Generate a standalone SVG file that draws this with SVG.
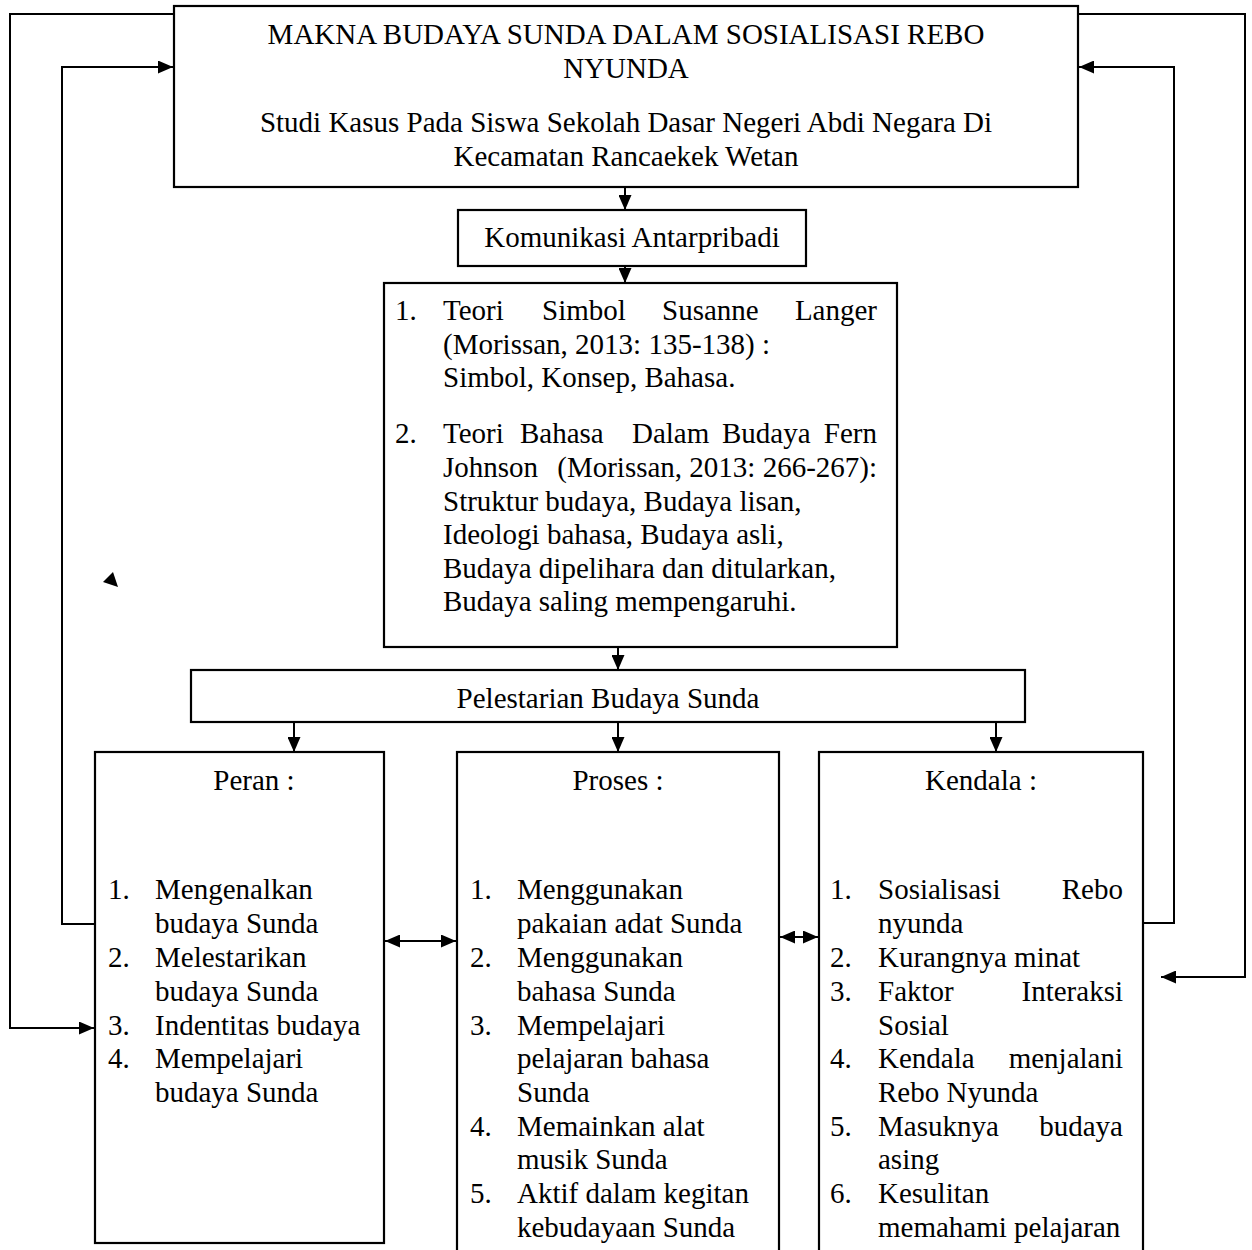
<svg xmlns="http://www.w3.org/2000/svg" width="1252" height="1250" viewBox="0 0 1252 1250">
<style>
.box{fill:#fff;stroke:#000;stroke-width:2.2}
.ln{fill:none;stroke:#000;stroke-width:2}
text{font-family:"Liberation Serif","Times New Roman",serif;font-size:29px;fill:#000}
.c{text-anchor:middle}
.e{text-anchor:end}
</style>
<defs>
<marker id="ah" viewBox="0 0 15 13" refX="15" refY="6.5" markerWidth="15" markerHeight="13" markerUnits="userSpaceOnUse" orient="auto-start-reverse">
<path d="M0,0 L15,6.5 L0,13 Z" fill="#000"/>
</marker>
</defs>
<rect width="1252" height="1250" fill="#fff"/>

<g id="connectors">
<path class="ln" d="M174,14 H10 V1028 H94" marker-end="url(#ah)"/>
<path class="ln" d="M95,924 H62 V67 H173" marker-end="url(#ah)"/>
<path class="ln" d="M1078,14 H1245 V977 H1161" marker-end="url(#ah)"/>
<path class="ln" d="M1143,923 H1174 V67 H1079" marker-end="url(#ah)"/>
<path class="ln" d="M625,187 V210" marker-end="url(#ah)"/>
<path class="ln" d="M625,266 V283" marker-end="url(#ah)"/>
<path class="ln" d="M618,632 V670" marker-end="url(#ah)"/>
<path class="ln" d="M294,722 V752" marker-end="url(#ah)"/>
<path class="ln" d="M618,722 V752" marker-end="url(#ah)"/>
<path class="ln" d="M996,722 V752" marker-end="url(#ah)"/>
<path class="ln" d="M385,941 H456" marker-start="url(#ah)" marker-end="url(#ah)"/>
<path class="ln" d="M780,937 H818" marker-start="url(#ah)" marker-end="url(#ah)"/>
<path d="M103,582 L113,572 L118,587 Z" fill="#000"/>
</g>

<g id="title">
<rect class="box" x="174" y="6" width="904" height="181"/>
<text class="c" x="626" y="44">MAKNA BUDAYA SUNDA DALAM SOSIALISASI REBO</text>
<text class="c" x="626" y="77.5">NYUNDA</text>
<text class="c" x="626" y="132">Studi Kasus Pada Siswa Sekolah Dasar Negeri Abdi Negara Di</text>
<text class="c" x="626" y="165.5">Kecamatan Rancaekek Wetan</text>
</g>

<g id="komunikasi">
<rect class="box" x="458" y="210" width="348" height="56"/>
<text class="c" x="632" y="247">Komunikasi Antarpribadi</text>
</g>

<g id="teori">
<rect class="box" x="384" y="283" width="513" height="364"/>
<text x="395" y="320">1.</text>
<text x="443" y="320">Teori</text>
<text x="542" y="320">Simbol</text>
<text x="662" y="320">Susanne</text>
<text class="e" x="877" y="320">Langer</text>
<text x="443" y="353.5">(Morissan, 2013: 135-138) :</text>
<text x="443" y="387">Simbol, Konsep, Bahasa.</text>
<text x="395" y="443">2.</text>
<text x="443" y="443">Teori</text>
<text x="520" y="443">Bahasa</text>
<text x="632" y="443">Dalam</text>
<text x="722" y="443">Budaya</text>
<text class="e" x="877" y="443">Fern</text>
<text x="443" y="477">Johnson</text>
<text class="e" x="877" y="477">(Morissan, 2013: 266-267):</text>
<text x="443" y="510.5">Struktur budaya, Budaya lisan,</text>
<text x="443" y="544">Ideologi bahasa, Budaya asli,</text>
<text x="443" y="577.5">Budaya dipelihara dan ditularkan,</text>
<text x="443" y="611">Budaya saling mempengaruhi.</text>
</g>

<g id="pelestarian">
<rect class="box" x="191" y="670" width="834" height="52"/>
<text class="c" x="608" y="708">Pelestarian Budaya Sunda</text>
</g>

<g id="peran">
<rect class="box" x="95" y="752" width="289" height="491"/>
<text class="c" x="254" y="790">Peran :</text>
<text x="108" y="899">1.</text>
<text x="155" y="899">Mengenalkan</text>
<text x="155" y="933">budaya Sunda</text>
<text x="108" y="967">2.</text>
<text x="155" y="967">Melestarikan</text>
<text x="155" y="1001">budaya Sunda</text>
<text x="108" y="1035">3.</text>
<text x="155" y="1035">Indentitas budaya</text>
<text x="108" y="1068">4.</text>
<text x="155" y="1068">Mempelajari</text>
<text x="155" y="1102">budaya Sunda</text>
</g>

<g id="proses">
<rect class="box" x="457" y="752" width="322" height="520"/>
<text class="c" x="618" y="790">Proses :</text>
<text x="470" y="899">1.</text>
<text x="517" y="899">Menggunakan</text>
<text x="517" y="933">pakaian adat Sunda</text>
<text x="470" y="967">2.</text>
<text x="517" y="967">Menggunakan</text>
<text x="517" y="1001">bahasa Sunda</text>
<text x="470" y="1035">3.</text>
<text x="517" y="1035">Mempelajari</text>
<text x="517" y="1068">pelajaran bahasa</text>
<text x="517" y="1102">Sunda</text>
<text x="470" y="1136">4.</text>
<text x="517" y="1136">Memainkan alat</text>
<text x="517" y="1169">musik Sunda</text>
<text x="470" y="1203">5.</text>
<text x="517" y="1203">Aktif dalam kegitan</text>
<text x="517" y="1237">kebudayaan Sunda</text>
</g>

<g id="kendala">
<rect class="box" x="819" y="752" width="324" height="520"/>
<text class="c" x="981" y="790">Kendala :</text>
<text x="830" y="899">1.</text>
<text x="878" y="899">Sosialisasi</text>
<text class="e" x="1123" y="899">Rebo</text>
<text x="878" y="933">nyunda</text>
<text x="830" y="967">2.</text>
<text x="878" y="967">Kurangnya minat</text>
<text x="830" y="1001">3.</text>
<text x="878" y="1001">Faktor</text>
<text class="e" x="1123" y="1001">Interaksi</text>
<text x="878" y="1035">Sosial</text>
<text x="830" y="1068">4.</text>
<text x="878" y="1068">Kendala</text>
<text class="e" x="1123" y="1068">menjalani</text>
<text x="878" y="1102">Rebo Nyunda</text>
<text x="830" y="1136">5.</text>
<text x="878" y="1136">Masuknya</text>
<text class="e" x="1123" y="1136">budaya</text>
<text x="878" y="1169">asing</text>
<text x="830" y="1203">6.</text>
<text x="878" y="1203">Kesulitan</text>
<text x="878" y="1237">memahami pelajaran</text>
</g>
</svg>
